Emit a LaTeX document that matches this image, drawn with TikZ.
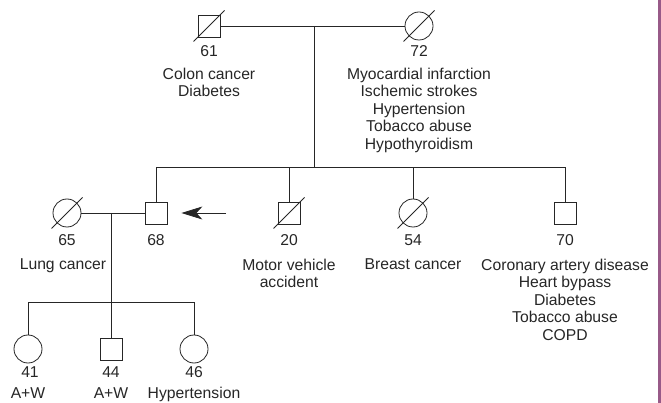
\documentclass[tikz,border=0pt]{standalone}
\usepackage{fontspec}
\setmainfont{Liberation Sans}
\usepackage{xcolor}
\usetikzlibrary{arrows.meta}
\usetikzlibrary{calc}
\definecolor{edgepurple}{RGB}{152,90,136}
\tikzset{
    male/.style={draw, rectangle, minimum size=22pt, inner sep=0pt},
    female/.style={draw, circle, minimum size=28pt, inner sep=0pt},
    age/.style={inner sep=0pt},
    info/.style={anchor=north, align=center, inner sep=0pt}
}

\begin{document}
\begin{tikzpicture}[x=1pt, y=-1pt, line width=0.8pt, color=black!85,
    font=\fontsize{15.7}{17.5}\selectfont]
    \useasboundingbox (0,0) rectangle (661,403);
    \fill[edgepurple] (657.5,0) rectangle (661,403);
    % grandparents
    \node[male] (gf) at (209,26) {};
    \node[female] (gm) at (419,26) {};
    \node[age] (a61) at (209,51) {61};
    \node[age] (a72) at (419,51) {72};
    \node[info] (t61) at (209,67.5) {Colon cancer\\Diabetes};
    \node[info] (t72) at (419,67.5) {Myocardial infarction\\Ischemic strokes\\Hypertension\\Tobacco abuse\\Hypothyroidism};
    \coordinate (d1) at (314,26);
    \coordinate (s1) at (314,167);
    \draw (gf.east) -- (gm.west);
    \draw (d1) -- (s1);
    % children
    \node[female] (f65) at (67,213) {};
    \node[male] (m68) at (156,213) {};
    \node[male] (m20) at (289,213) {};
    \node[female] (f54) at (413,213) {};
    \node[male] (m70) at (565,213) {};
    \node[age] (a65) at (67,240) {65};
    \node[age] (a68) at (156,240) {68};
    \node[age] (a20) at (289,240) {20};
    \node[age] (a54) at (413,240) {54};
    \node[age] (a70) at (565,240) {70};
    \node[info] (t65) at (63,258.5) {Lung cancer};
    \node[info] (t20) at (289,258.5) {Motor vehicle\\accident};
    \node[info] (t54) at (413,258.5) {Breast cancer};
    \node[info] (t70) at (565,258.5) {Coronary artery disease\\Heart bypass\\Diabetes\\Tobacco abuse\\COPD};
    \draw (m68.north) -- (m68.north |- s1) -- (m70.north |- s1) -- (m70.north);
    \draw (m20.north) -- (m20.north |- s1);
    \draw (f54.north) -- (f54.north |- s1);
    \draw (f65.east) -- (m68.west);
    \coordinate (ptr) at (226,213);
    \draw[-{Stealth[length=21pt, width=13pt, inset=6pt]}] (ptr) -- ($(m68.east)+(14,0)$);
    % grandchildren
    \coordinate (d2) at (111,213);
    \coordinate (s2) at (111,302);
    \node[female] (f41) at (28,349) {};
    \node[male] (m44) at (111,349) {};
    \node[female] (f46) at (194,349) {};
    \node[age] (a41) at (30,372) {41};
    \node[age] (a44) at (111,372) {44};
    \node[age] (a46) at (194,372) {46};
    \node[info] (t41) at (28,387) {A+W};
    \node[info] (t44) at (111,387) {A+W};
    \node[info] (t46) at (194,387) {Hypertension};
    \draw (d2) -- (m44.north);
    \draw (f41.north) |- (f46.north |- s2) -- (f46.north);
    % deceased
    \foreach \p in {gf, gm, m20, f54, f65}
        \draw (\p.center) ++(-15.5,15.5) -- ++(31,-31);
\end{tikzpicture}
\end{document}
